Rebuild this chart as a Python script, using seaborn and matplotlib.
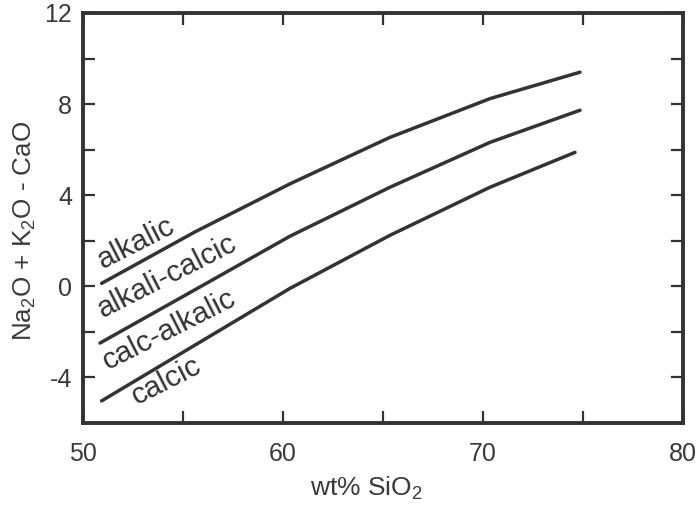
import matplotlib
matplotlib.use("Agg")
import matplotlib.pyplot as plt
import seaborn as sns
import pandas as pd
from matplotlib.ticker import MultipleLocator, FixedLocator

sns.set_theme(style="white")
plt.rcParams['font.family'] = ['Liberation Sans', 'DejaVu Sans']
plt.rcParams['mathtext.fontset'] = 'custom'
plt.rcParams['mathtext.rm'] = 'Liberation Sans'
plt.rcParams['mathtext.it'] = 'Liberation Sans'
plt.rcParams['axes.unicode_minus'] = False

# Data
sio2_top = [50.93, 55.6, 60.35, 65.35, 70.35, 74.85]
alk_alkcal = [0.13, 2.39, 4.50, 6.54, 8.24, 9.40]
sio2_mid = [50.85, 55.6, 60.35, 65.35, 70.35, 74.85]
alkcal_calcalk = [-2.49, -0.15, 2.20, 4.35, 6.32, 7.73]
sio2_bot = [50.93, 55.6, 60.35, 65.35, 70.35, 74.6]
calcalk_calcic = [-5.03, -2.58, -0.09, 2.24, 4.35, 5.88]

region_labels = ["alkalic", "alkali-calcic", "calc-alkalic", "calcic"]
label_x = [52.65, 54.2, 54.28, 54.15]
label_y = [1.88, 0.44, -1.92, -4.17]

series = [
    ("alkalic/alkali-calcic", sio2_top, alk_alkcal),
    ("alkali-calcic/calc-alkalic", sio2_mid, alkcal_calcalk),
    ("calc-alkalic/calcic", sio2_bot, calcalk_calcic),
]
df = pd.concat([pd.DataFrame({"SiO2": x, "MALI": y, "boundary": name})
                for name, x, y in series], ignore_index=True)

ink = "#333333"
fig = plt.figure(figsize=(7.0, 5.09), dpi=100)
ax = fig.add_axes([0.1186, 0.169, 0.8571, 0.8055])

sns.lineplot(data=df, x="SiO2", y="MALI", hue="boundary", units="boundary",
             estimator=None, sort=False,
             palette=[ink] * 3, linewidth=2.5, legend=False, ax=ax)

for lab, x, y in zip(region_labels, label_x, label_y):
    ax.text(x, y, lab, rotation=27, rotation_mode="anchor",
            ha="center", va="center", fontsize=21.5, color=ink)

ax.set_xlim(50, 80)
ax.set_ylim(-6, 12)
ax.xaxis.set_major_locator(FixedLocator([50, 60, 70, 80]))
ax.xaxis.set_minor_locator(MultipleLocator(5))
ax.yaxis.set_major_locator(FixedLocator([-4, 0, 4, 8, 12]))
ax.yaxis.set_minor_locator(MultipleLocator(2))
ax.tick_params(which="both", direction="in", top=True, right=True,
               bottom=True, left=True, color=ink, width=1.6)
ax.tick_params(which="major", length=8.5, labelsize=18, labelcolor="#3a3a3a")
ax.tick_params(which="minor", length=8.5)
ax.tick_params(axis="x", which="major", pad=14)
ax.tick_params(axis="y", which="major", pad=8)

for s in ax.spines.values():
    s.set_visible(True)
    s.set_color(ink)
    s.set_linewidth(2.8)

ax.set_xlabel(r"wt% SiO$_2$", fontsize=19, color="#3a3a3a")
ax.set_ylabel(r"Na$_2$O + K$_2$O - CaO", fontsize=18.7, color="#3a3a3a")
ax.xaxis.set_label_coords(0.472, -0.127)
ax.yaxis.set_label_coords(-0.075, 0.468)
ax.grid(False)

fig.savefig("out.png", dpi=100)
